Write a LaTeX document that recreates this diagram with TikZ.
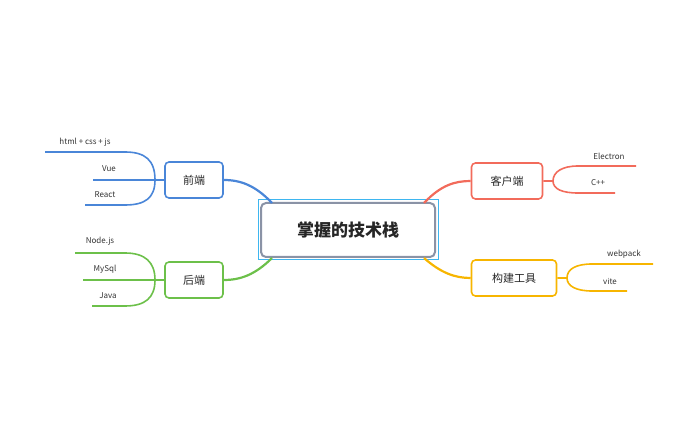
\documentclass[tikz,border=0pt]{standalone}
\usepackage{fontspec}
\setmainfont{Noto Sans CJK SC}
\definecolor{cb}{HTML}{4A86D8}
\definecolor{cg}{HTML}{6CC04A}
\definecolor{cr}{HTML}{F26B5B}
\definecolor{co}{HTML}{F7B500}
\definecolor{cgr}{HTML}{8A93A6}
\definecolor{ccy}{HTML}{3EB6F0}
\begin{document}
\begin{tikzpicture}[x=1pt,y=-1pt,
 sub/.style={draw=#1,line width=1.6pt,rounded corners=4pt,minimum height=36pt,font=\fontsize{11}{13}\selectfont,text=black!85,inner sep=0pt},
 leaf/.style={font=\fontsize{8}{10}\selectfont,text=black!80,inner sep=0pt},
 br/.style={draw=#1,line width=1.6pt},
 main/.style={draw=#1,line width=2.2pt}]
\useasboundingbox (0,0) rectangle (695,435);
\node[draw=ccy,line width=1pt,minimum width=180pt,minimum height=60pt] (outer) at (348,230) {};
\node[draw=cgr,line width=2pt,rounded corners=5pt,minimum width=174pt,minimum height=54pt,font=\fontsize{17}{20}\selectfont\bfseries,text=black!85] (c) at (348,230) {掌握的技术栈};
\node[sub=cb,minimum width=58pt] (fe) at (194,180) {前端};
\node[sub=cg,minimum width=58pt] (be) at (194,280) {后端};
\node[sub=cr,minimum width=71pt] (cl) at (507,181) {客户端};
\node[sub=co,minimum width=85pt] (bt) at (514,278) {构建工具};
\coordinate (c1) at (272,203); \coordinate (c2) at (272,258);
\coordinate (c3) at (424,203); \coordinate (c4) at (424,258);
\draw[main=cb] (c1) .. controls (255,185) and (240,180) .. (fe.east);
\draw[main=cg] (c2) .. controls (255,275) and (240,280) .. (be.east);
\draw[main=cr] (c3) .. controls (441,185) and (455,181) .. (cl.west);
\draw[main=co] (c4) .. controls (441,273) and (455,278) .. (bt.west);
% leaves
\coordinate (fa) at (45,152); \coordinate (fb) at (93,180); \coordinate (fc) at (85,205);
\draw[br=cb] (fe.west) -- (155,180) .. controls (155,160) and (145,152) .. (125,152) -- (fa);
\draw[br=cb] (155,180) -- (fb);
\draw[br=cb] (155,180) .. controls (155,198) and (145,205) .. (125,205) -- (fc);
\node[leaf] (l1) at (85,142) {html + css + js};
\node[leaf] (l2) at (109,169) {Vue};
\node[leaf] (l3) at (105,195) {React};
\coordinate (ba) at (75,253); \coordinate (bb) at (83,280); \coordinate (bc) at (92,306);
\draw[br=cg] (be.west) -- (155,280) .. controls (155,262) and (145,253) .. (125,253) -- (ba);
\draw[br=cg] (155,280) -- (bb);
\draw[br=cg] (155,280) .. controls (155,298) and (145,306) .. (125,306) -- (bc);
\node[leaf] (l4) at (100,241) {Node.js};
\node[leaf] (l5) at (105,269) {MySql};
\node[leaf] (l6) at (108,296) {Java};
\coordinate (ca) at (636,166); \coordinate (cb2) at (615,193);
\draw[br=cr] (cl.east) -- (553,181) .. controls (553,172) and (562,166) .. (578,166) -- (ca);
\draw[br=cr] (553,181) .. controls (553,189) and (562,193) .. (578,193) -- (cb2);
\node[leaf] (l7) at (609,156) {Electron};
\node[leaf] (l8) at (598,183) {C++};
\coordinate (da) at (653,264); \coordinate (db) at (627,291);
\draw[br=co] (bt.east) -- (567,278) .. controls (567,269) and (576,264) .. (592,264) -- (da);
\draw[br=co] (567,278) .. controls (567,286) and (576,291) .. (592,291) -- (db);
\node[leaf] (l9) at (624,254) {webpack};
\node[leaf] (l10) at (610,281) {vite};
\end{tikzpicture}
\end{document}
